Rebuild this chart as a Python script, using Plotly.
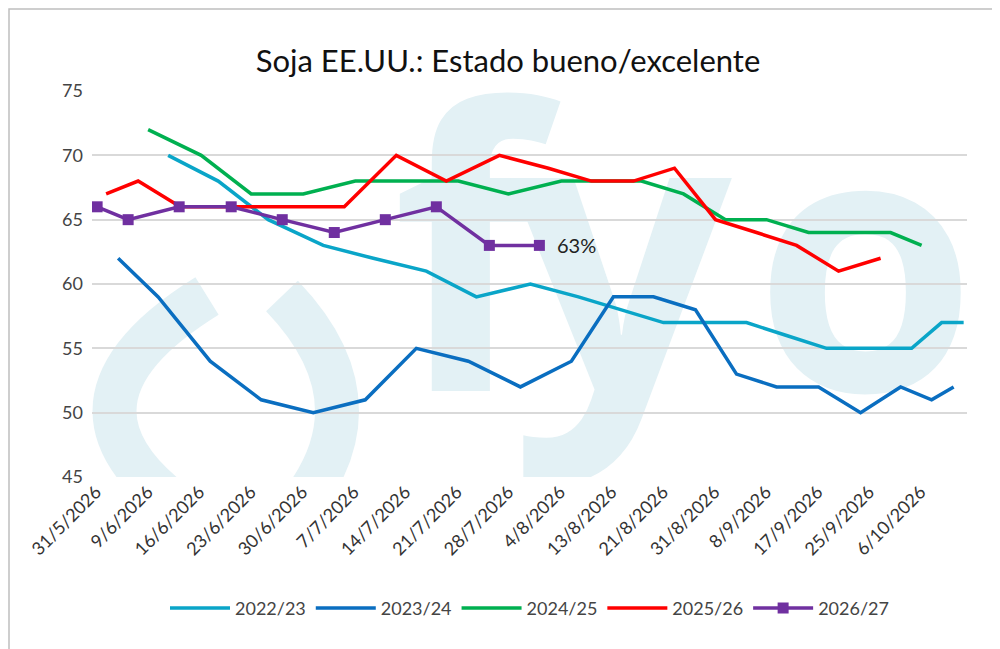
import base64
import plotly.graph_objects as go

# positions in label units (0 = 31/5/2026, 1 label step per unit)
def u(px):
    return [(p - 88) / 51.5 for p in px]

tick_labels = ["31/5/2026", "9/6/2026", "16/6/2026", "23/6/2026", "30/6/2026", "7/7/2026",
               "14/7/2026", "21/7/2026", "28/7/2026", "4/8/2026", "13/8/2026", "21/8/2026",
               "31/8/2026", "8/9/2026", "17/9/2026", "25/9/2026", "6/10/2026"]

px_2223 = [160, 210, 260, 315, 365, 418, 468, 522, 570, 612, 655, 697, 738, 778, 818, 860, 903, 933, 955]
v_2223 = [70, 68, 65, 63, 62, 61, 59, 60, 59, 58, 57, 57, 57, 56, 55, 55, 55, 57, 57]

px_2324 = [110, 150, 202, 253, 305, 357, 408, 460, 512, 563, 605, 645, 687, 728, 768, 810, 852, 892, 923, 945]
v_2324 = [62, 59, 54, 51, 50, 51, 55, 54, 52, 54, 59, 59, 58, 53, 52, 52, 50, 52, 51, 52]

px_2425 = [140, 193, 243, 295, 347, 398, 450, 500, 553, 633, 675, 717, 758, 800, 841, 882, 913]
v_2425 = [72, 70, 67, 67, 68, 68, 68, 67, 68, 68, 67, 65, 65, 64, 64, 64, 63]

px_2526 = [98, 130, 172, 224, 275, 336, 388, 438, 491, 540, 583, 625, 666, 707, 748, 788, 830, 872]
v_2526 = [67, 68, 66, 66, 66, 66, 70, 68, 70, 69, 68, 68, 69, 65, 64, 63, 61, 62]

px_2627 = [89, 120, 171, 223, 274, 326, 377, 428, 481, 531]
v_2627 = [66, 65, 66, 66, 65, 64, 65, 66, 63, 63]

W, H, L, R, T, B = 1000, 649, 84, 41, 83, 180
PW = W - L - R
PH = H - T - B

# watermark logo drawn as an svg image under the traces (plot-area pixel coords)
svg = f"""<svg xmlns="http://www.w3.org/2000/svg" width="{PW}" height="{PH}">
<g fill="none" stroke="#e3f1f5" stroke-width="44" stroke-linecap="butt">
<path d="M 115 205 Q -70 320 115 435"/><path d="M 190 205 Q 300 320 190 435"/>
</g>
<g font-family="Open Sans" font-weight="bold" fill="#e3f1f5">
<text x="300" y="300" font-size="390">f</text><text x="418" y="300" font-size="390">y</text>
<text x="662" y="300" font-size="360">o</text>
</g></svg>"""
wm_src = "data:image/svg+xml;base64," + base64.b64encode(svg.encode()).decode()

fig = go.Figure()
fig.add_layout_image(source=wm_src, xref="paper", yref="paper", x=0, y=1, sizex=1, sizey=1,
                     xanchor="left", yanchor="top", sizing="stretch", layer="below")

series = [("2022/23", px_2223, v_2223, "#0aa5c8"),
          ("2023/24", px_2324, v_2324, "#0a6ec0"),
          ("2024/25", px_2425, v_2425, "#00b050"),
          ("2025/26", px_2526, v_2526, "#ff0000")]
for name, px, v, c in series:
    fig.add_trace(go.Scatter(x=u(px), y=v, name=name, mode="lines",
                             line=dict(color=c, width=3.5)))
fig.add_trace(go.Scatter(x=u(px_2627), y=v_2627, name="2026/27", mode="lines+markers",
                         line=dict(color="#7030a0", width=3.5),
                         marker=dict(symbol="square", size=11, color="#7030a0")))
fig.add_annotation(x=u(px_2627)[-1], y=v_2627[-1], text=f"{v_2627[-1]}%", showarrow=False,
                   xanchor="left", xshift=16, font=dict(size=20, color="#222"))

fig.update_layout(
    width=W, height=H,
    margin=dict(l=L, r=R, t=T, b=B),
    paper_bgcolor="white", plot_bgcolor="rgba(0,0,0,0)",
    font=dict(family="Lato", color="#444"),
    title=dict(text="Soja EE.UU.: Estado bueno/excelente", x=0.5, y=0.935, xanchor="center",
               font=dict(size=31, color="#111")),
    xaxis=dict(range=[-0.08, 16.9], tickmode="array", tickvals=list(range(len(tick_labels))),
               ticktext=tick_labels, tickangle=-45, showgrid=False, zeroline=False,
               tickfont=dict(size=18, color="#333"), showline=False),
    yaxis=dict(range=[45, 75], dtick=5, gridcolor="#d9d9d9", gridwidth=1.5, zeroline=False,
               tickfont=dict(size=18, color="#444"), ticklabelstandoff=8),
    legend=dict(orientation="h", x=0.5, xanchor="center", y=-0.34, yanchor="middle",
                font=dict(size=18, color="#444"), itemwidth=60),
    showlegend=True,
)
fig.add_shape(type="rect", xref="paper", yref="paper",
              x0=-(L - 1) / PW, x1=(W - L - 1) / PW, y0=-(B - 1) / PH, y1=(H - B - 1) / PH,
              line=dict(color="#bfbfbf", width=1.5))
fig.write_html("out.html")
